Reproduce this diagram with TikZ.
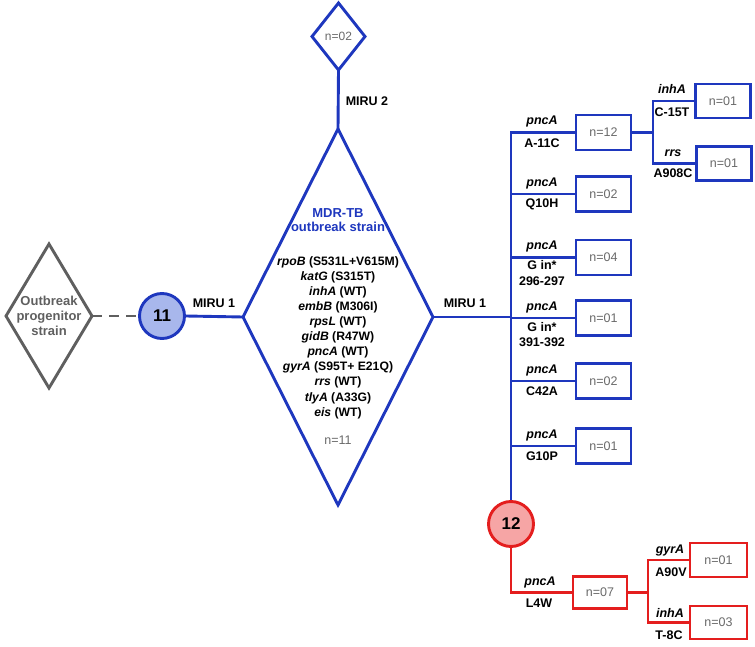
\documentclass[tikz,border=0pt]{standalone}
\usepackage{fontspec}
\setmainfont{Liberation Sans}
\usetikzlibrary{shapes.geometric}
\definecolor{blueC}{RGB}{30,55,190}
\definecolor{redC}{RGB}{228,30,30}
\definecolor{grayC}{RGB}{95,95,95}
\definecolor{txtgray}{RGB}{105,105,105}
\definecolor{fillA}{RGB}{168,183,236}
\definecolor{fillB}{RGB}{246,165,165}
\begin{document}
\begin{tikzpicture}[x=1pt,y=-1pt,
  conn/.style={draw=blueC, line width=2.9pt},
  rconn/.style={draw=redC, line width=2.9pt},
  bbox/.style={draw=blueC, line width=2.9pt, minimum width=55pt, minimum height=35pt, inner sep=0pt, text=txtgray, font=\fontsize{12.5}{14}\selectfont},
  rbox/.style={bbox, draw=redC},
  lab/.style={inner sep=0pt, font=\bfseries\fontsize{12.5}{15.5}\selectfont, align=center},
  dia/.style={shape=diamond, draw=blueC, line width=2.9pt, inner sep=0pt, outer sep=0pt},
  circ/.style={shape=circle, draw=blueC, line width=2.9pt, minimum size=45pt, inner sep=0pt, font=\bfseries\fontsize{17}{18}\selectfont}
]
\useasboundingbox (0,0) rectangle (755,647);

% diamonds and circles
\node[dia, minimum width=86pt, minimum height=144pt, draw=grayC] (prog) at (49,316) {};
\node[lab, text=grayC, font=\bfseries\fontsize{13}{15}\selectfont] (progtxt) at (49,316) {Outbreak\\progenitor\\strain};
\node[circ, fill=fillA] (c11) at (162,316) {11};
\node[dia, minimum width=190pt, minimum height=376pt] (dmain) at (338,317) {};
\node[dia, minimum width=53pt, minimum height=67pt] (d2) at (338.5,36.5) {};
\node[inner sep=0pt, text=txtgray, font=\fontsize{12}{14}\selectfont] (d2txt) at (338.5,36.5) {n=02};

\node[lab, text=blueC, font=\bfseries\fontsize{13}{14}\selectfont] (title) at (338,220) {MDR-TB\\outbreak strain};
\node[lab, font=\bfseries\fontsize{12.2}{15.1}\selectfont] (genes) at (338,337.5) {\textit{rpoB} (S531L+V615M)\\
\textit{katG} (S315T)\\
\textit{inhA} (WT)\\
\textit{embB} (M306I)\\
\textit{rpsL} (WT)\\
\textit{gidB} (R47W)\\
\textit{pncA} (WT)\\
\textit{gyrA} (S95T+ E21Q)\\
\textit{rrs} (WT)\\
\textit{tlyA} (A33G)\\
\textit{eis} (WT)};
\node[inner sep=0pt, text=txtgray, font=\fontsize{12.5}{14}\selectfont] (n11) at (338,440) {n=11};

\node[circ, draw=redC, fill=fillB] (c12) at (511,524) {12};

% boxes on trunk
\node[bbox] (b12) at (603.5,132.5) {n=12};
\node[bbox] (b02a) at (603.5,194) {n=02};
\node[bbox] (b04) at (603.5,257.5) {n=04};
\node[bbox] (b01a) at (603.5,318) {n=01};
\node[bbox] (b02b) at (603.5,381) {n=02};
\node[bbox] (b01b) at (603.5,446) {n=01};
\node[bbox, minimum height=34pt] (sA) at (723,101) {n=01};
\node[bbox, minimum height=34pt] (sB) at (724,163.5) {n=01};
\coordinate (sJ) at (653,132.5);

% red boxes
\node[rbox, minimum width=54pt, minimum height=32pt] (b07) at (600,592.5) {n=07};
\node[rbox, minimum width=57pt, minimum height=34pt] (rA) at (718.5,560) {n=01};
\node[rbox, minimum width=57pt, minimum height=33pt] (rB) at (718.5,622.5) {n=03};
\coordinate (rJ) at (648,592.5);

% connectors
\draw[draw=grayC, line width=2.9pt, dash pattern=on 10pt off 7pt] (prog.east) -- (c11.west);
\draw[conn] (c11.east) -- (dmain.west);
\draw[conn] (d2.south) -- (dmain.north);
\draw[conn] (dmain.east) -- (dmain.east -| c12.north);
\draw[conn] (b12.west) -| (c12.north);
\draw[conn] (b02a.west) -- (b02a.west -| c12.north);
\draw[conn] (b04.west) -- (b04.west -| c12.north);
\draw[conn] (b01a.west) -- (b01a.west -| c12.north);
\draw[conn] (b02b.west) -- (b02b.west -| c12.north);
\draw[conn] (b01b.west) -- (b01b.west -| c12.north);
\draw[conn] (b12.east) -- (sJ);
\draw[conn] (sA.west) -| (sJ) |- (sB.west);
\draw[rconn] (c12.south) |- (b07.west);
\draw[rconn] (b07.east) -- (rJ);
\draw[rconn] (rA.west) -| (rJ) |- (rB.west);

% MIRU labels
\node[lab] (m2) at (367,101) {MIRU 2};
\node[lab] (m1a) at (214,303) {MIRU 1};
\node[lab] (m1b) at (465,303) {MIRU 1};

% trunk labels
\node[lab] (g1) at (542,121.5) {\textit{pncA}};
\node[lab] (m1) at (542,143) {A-11C};
\node[lab] (g2) at (542,183) {\textit{pncA}};
\node[lab] (mu2) at (542,204.5) {Q10H};
\node[lab] (g3) at (542,246.5) {\textit{pncA}};
\node[lab] (mu3) at (542,273) {G in*\\296-297};
\node[lab] (g4) at (542,307) {\textit{pncA}};
\node[lab] (mu4) at (542,334.5) {G in*\\391-392};
\node[lab] (g5) at (542,370) {\textit{pncA}};
\node[lab] (mu5) at (542,391.5) {C42A};
\node[lab] (g6) at (542,435) {\textit{pncA}};
\node[lab] (mu6) at (542,456.5) {G10P};

% sub labels
\node[lab] (gs1) at (672,89) {\textit{inhA}};
\node[lab] (ms1) at (672,112) {C-15T};
\node[lab] (gs2) at (673,153) {\textit{rrs}};
\node[lab] (ms2) at (673,173.5) {A908C};

% red labels
\node[lab] (gr0) at (540,582) {\textit{pncA}};
\node[lab] (mr0) at (539,603.5) {L4W};
\node[lab] (gr1) at (670,550) {\textit{gyrA}};
\node[lab] (mr1) at (671,572) {A90V};
\node[lab] (gr2) at (670,613) {\textit{inhA}};
\node[lab] (mr2) at (669,635) {T-8C};
\end{tikzpicture}
\end{document}
